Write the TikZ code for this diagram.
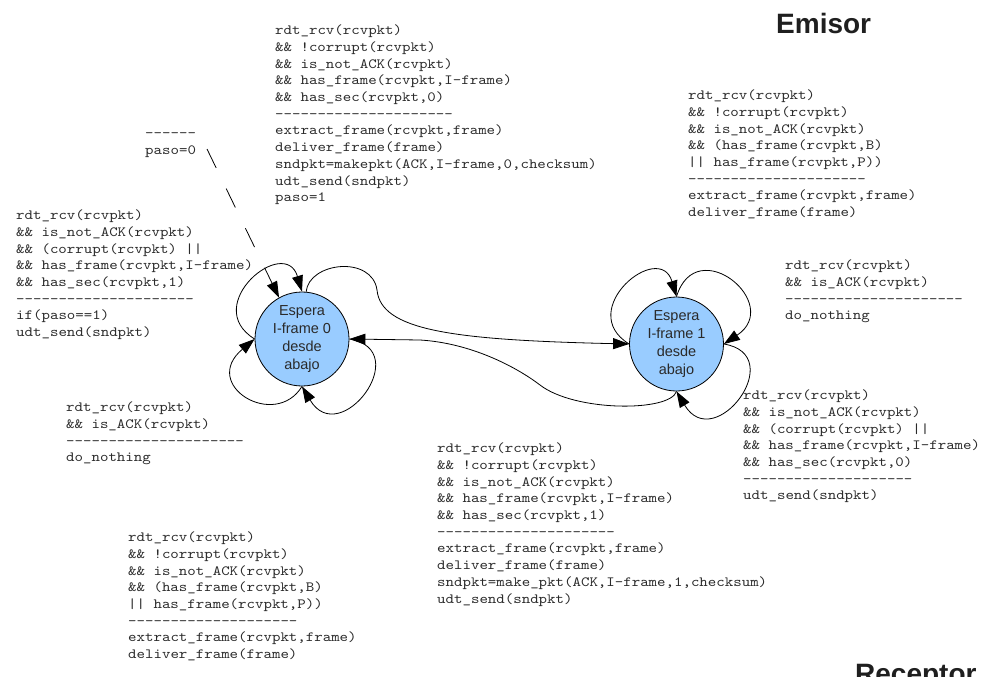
\documentclass[tikz,border=0pt]{standalone}
\usepackage{fontspec}
\setmainfont{Liberation Sans}
\setmonofont{lmmono10-regular.otf}[FakeStretch=1.143]
\usetikzlibrary{arrows.meta}
\definecolor{stateblue}{HTML}{99CCFF}
\definecolor{txt}{HTML}{2A2A2A}
\tikzset{
 x=1pt,y=-1pt,
 state/.style={circle,draw=black,line width=0.8pt,fill=stateblue,minimum size=94pt,inner sep=0pt,align=center,font=\fontsize{14.5}{18}\selectfont,text=txt},
 code/.style={anchor=north west,inner sep=0pt,align=left,font=\ttfamily\fontsize{14.1}{16.7}\selectfont,text=txt},
 title/.style={anchor=base west,inner sep=0pt,font=\bfseries\fontsize{28}{32}\selectfont,text=black!88},
 edge/.style={draw=black,line width=0.8pt,-{Triangle[length=16pt,width=11pt]}},
}
\newcommand\fs{\rule{0pt}{11pt}}
\begin{document}
\begin{tikzpicture}
\useasboundingbox (0,0) rectangle (988,677);
% states
\node[state] (L) at (302,339) {Espera\\I-frame 0\\desde\\abajo};
\node[state] (R) at (676.5,344) {Espera\\I-frame 1\\desde\\abajo};
% titles
\node[title] (emisor) at (776,34) {Emisor};
\node[title] (receptor) at (855,683) {Receptor};
% code blocks
\node[code] (A) at (275,23.5) {\fs rdt\_rcv(rcvpkt)\\\&\& !corrupt(rcvpkt)\\\&\& is\_not\_ACK(rcvpkt)\\\&\& has\_frame(rcvpkt,I-frame)\\\&\& has\_sec(rcvpkt,0)\\---------------------\\extract\_frame(rcvpkt,frame)\\deliver\_frame(frame)\\sndpkt=makepkt(ACK,I-frame,0,checksum)\\udt\_send(sndpkt)\\paso=1};
\node[code] (B) at (145,126.5) {\fs ------\\paso=0};
\node[code] (C) at (16,208.5) {\fs rdt\_rcv(rcvpkt)\\\&\& is\_not\_ACK(rcvpkt)\\\&\& (corrupt(rcvpkt) ||\\\&\& has\_frame(rcvpkt,I-frame)\\\&\& has\_sec(rcvpkt,1)\\---------------------\\if(paso==1)\\udt\_send(sndpkt)};
\node[code] (D) at (688,88.5) {\fs rdt\_rcv(rcvpkt)\\\&\& !corrupt(rcvpkt)\\\&\& is\_not\_ACK(rcvpkt)\\\&\& (has\_frame(rcvpkt,B)\\|| has\_frame(rcvpkt,P))\\---------------------\\extract\_frame(rcvpkt,frame)\\deliver\_frame(frame)};
\node[code] (E) at (785,258.5) {\fs rdt\_rcv(rcvpkt)\\\&\& is\_ACK(rcvpkt)\\---------------------\\do\_nothing};
\node[code] (F) at (743,388.5) {\fs rdt\_rcv(rcvpkt)\\\&\& is\_not\_ACK(rcvpkt)\\\&\& (corrupt(rcvpkt) ||\\\&\& has\_frame(rcvpkt,I-frame)\\\&\& has\_sec(rcvpkt,0)\\--------------------\\udt\_send(sndpkt)};
\node[code] (G) at (66,400.5) {\fs rdt\_rcv(rcvpkt)\\\&\& is\_ACK(rcvpkt)\\---------------------\\do\_nothing};
\node[code] (H) at (437,441.5) {\fs rdt\_rcv(rcvpkt)\\\&\& !corrupt(rcvpkt)\\\&\& is\_not\_ACK(rcvpkt)\\\&\& has\_frame(rcvpkt,I-frame)\\\&\& has\_sec(rcvpkt,1)\\---------------------\\extract\_frame(rcvpkt,frame)\\deliver\_frame(frame)\\sndpkt=make\_pkt(ACK,I-frame,1,checksum)\\udt\_send(sndpkt)};
\node[code] (I) at (128,530.5) {\fs rdt\_rcv(rcvpkt)\\\&\& !corrupt(rcvpkt)\\\&\& is\_not\_ACK(rcvpkt)\\\&\& (has\_frame(rcvpkt,B)\\|| has\_frame(rcvpkt,P))\\--------------------\\extract\_frame(rcvpkt,frame)\\deliver\_frame(frame)};
% initial arrow
\coordinate (p0) at (207,149);
\draw[edge,dash pattern=on 21pt off 23pt] (p0) -- (L.119);
% loops on L
\draw[edge] (L.west) .. controls +(-55,-34) and +(-17,-57) .. (L.north);
\draw[edge] (L.south) .. controls +(-27,44) and +(-55,46) .. (L.west);
\draw[edge] (L.east) .. controls +(66,11) and +(38,64) .. (L.south);
% loops on R
\draw[edge] (R.west) .. controls +(-55,-34) and +(-17,-57) .. (R.north);
\draw[edge] (R.north) .. controls +(20,-65) and +(60,-40) .. (R.east);
\draw[edge] (R.east) .. controls +(66,11) and +(38,64) .. (R.south);
% transitions
\draw[edge] (L.85) .. controls (309,262) and (372,255) .. (377,290) .. controls (381,330) and (450,340) .. (R.west);
\draw[edge] (R.south) .. controls (670,412) and (575,412) .. (540,385) .. controls (515,366) and (470,343) .. (420,340) -- (L.east);
\end{tikzpicture}
\end{document}
